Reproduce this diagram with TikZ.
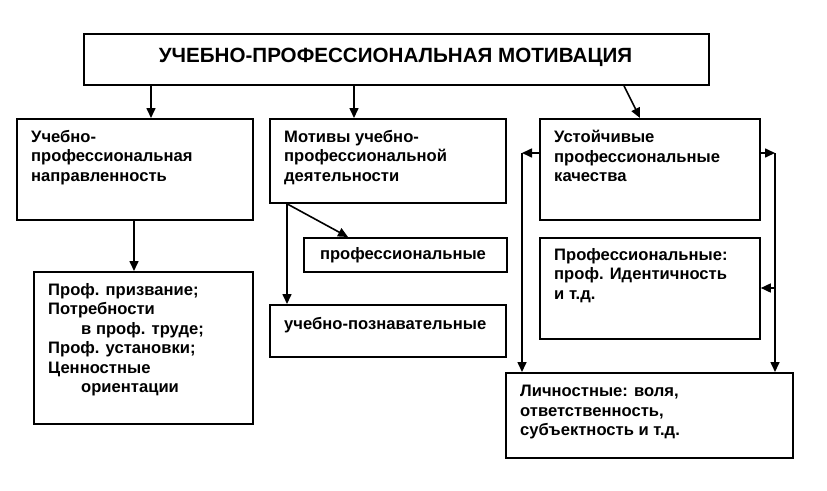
\documentclass[tikz,border=0pt]{standalone}
\usepackage{fontspec}
\setmainfont{Liberation Sans}
\usetikzlibrary{arrows.meta}
\begin{document}
\begin{tikzpicture}[x=1pt,y=-1pt,
  box/.style={draw, line width=1.8pt, anchor=north west, inner sep=0pt, fill=white},
  txt/.style={anchor=north west, inner sep=0pt, align=left, font=\bfseries\fontsize{16.6}{19.5}\selectfont},
  arr/.style={line width=1.6pt, -{Triangle[length=10pt,width=9pt]}},
  ln/.style={line width=1.6pt}]
\useasboundingbox (0,0) rectangle (827,490);
% boxes
\node[box, minimum width=625pt, minimum height=51pt] (T) at (83,33) {};
\node[box, minimum width=236pt, minimum height=101pt] (A) at (16,118) {};
\node[box, minimum width=236pt, minimum height=84pt] (B) at (269,118) {};
\node[box, minimum width=220pt, minimum height=101pt] (C) at (539,118) {};
\node[box, minimum width=219pt, minimum height=152pt] (D) at (33,271) {};
\node[box, minimum width=203pt, minimum height=34pt] (E) at (303,237) {};
\node[box, minimum width=236pt, minimum height=52pt] (F) at (269,304) {};
\node[box, minimum width=220pt, minimum height=101pt] (G) at (539,237) {};
\node[box, minimum width=287pt, minimum height=85pt] (H) at (505,372) {};
% texts
\node[anchor=base, inner sep=0pt, font=\bfseries\fontsize{20.6}{24}\selectfont] (Tt) at (395.5,62) {УЧЕБНО-ПРОФЕССИОНАЛЬНАЯ МОТИВАЦИЯ};
\node[txt] (At) at (31,130) {Учебно-\\профессиональная\\направленность};
\node[txt] (Bt) at (284,130) {Мотивы учебно-\\профессиональной\\деятельности};
\node[txt] (Ct) at (554,130) {Устойчивые\\профессиональные\\качества};
\node[txt] (Dt) at (48,283) {Проф. призвание;\\Потребности\\\hspace*{33pt}в проф. труде;\\Проф. установки;\\Ценностные\\\hspace*{33pt}ориентации};
\node[anchor=base, inner sep=0pt, font=\bfseries\fontsize{16.6}{19.5}\selectfont] (Et) at (403,259) {профессиональные};
\node[txt] (Ft) at (284,317) {учебно-познавательные};
\node[txt] (Gt) at (554,248) {Профессиональные:\\проф. Идентичность\\и т.д.};
\node[txt] (Ht) at (520,385) {Личностные: воля,\\ответственность,\\субъектность и т.д.};
% connectors
\draw[arr] ([xshift=68pt]T.south west) -- ([xshift=135pt]A.north west);
\draw[arr] ([xshift=271pt]T.south west) -- ([xshift=85pt]B.north west);
\draw[arr] ([xshift=541pt]T.south west) -- ([xshift=101pt]C.north west);
\draw[arr] ([xshift=118pt]A.south west) -- ([xshift=101pt]D.north west);
\draw[arr] ([xshift=18pt]B.south west) -- ([xshift=18pt]F.north west);
\draw[arr] ([xshift=18pt]B.south west) -- ([xshift=45pt]E.north west);
\coordinate (Lc) at (522,153);
\coordinate (Rc) at (775,153);
\coordinate (Gc) at (775,288);
\draw[arr] ([yshift=-35pt]C.north west) -- (Lc);
\draw[arr] (Lc) -- ([xshift=17pt]H.north west);
\draw[arr] ([yshift=-35pt]C.north east) -- (Rc);
\draw[arr] (Rc) -- ([xshift=270pt]H.north west);
\draw[arr] (Gc) -- ([yshift=-51pt]G.north east);
\end{tikzpicture}
\end{document}
